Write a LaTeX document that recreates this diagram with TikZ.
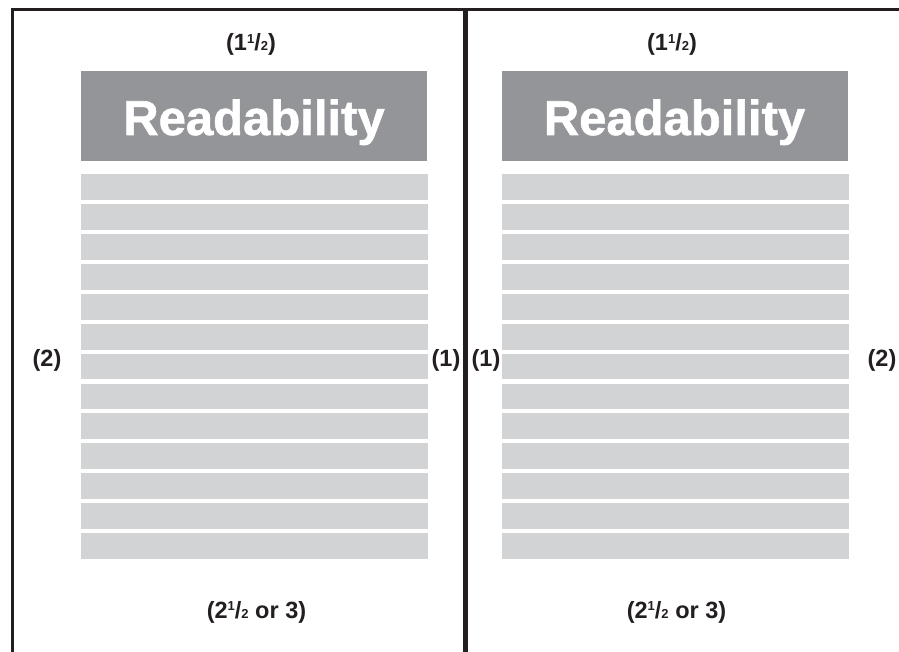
\documentclass[tikz,border=0pt]{standalone}
\usepackage{fontspec}
\setmainfont{Liberation Sans}
\newfontfamily\headfont[FakeBold=1.2]{Liberation Sans}
\definecolor{rulecol}{HTML}{231F20}
\definecolor{headgray}{HTML}{939598}
\definecolor{linegray}{HTML}{D1D3D4}
\definecolor{labelcol}{HTML}{231F20}
\newcommand{\labfont}{\fontsize{23.5}{23.5}\selectfont\bfseries}
\newcommand{\fracsmall}{\fontsize{13}{13}\selectfont\bfseries}
\newcommand{\onehalf}{1\raisebox{7.6pt}{\fracsmall 1}/{\fracsmall 2}}
\newcommand{\twohalf}{2\raisebox{7.6pt}{\fracsmall 1}/{\fracsmall 2}}
\tikzset{
  frameline/.style={draw=rulecol, line width=3pt},
  midline/.style={draw=rulecol, line width=4.5pt},
  headbox/.style={fill=headgray, draw=none, inner sep=0pt, outer sep=0pt,
    minimum width=346pt, minimum height=90pt},
  headtext/.style={text=white, inner sep=0pt, anchor=base,
    font=\headfont\fontsize{49}{49}\selectfont\bfseries},
  textbar/.style={fill=linegray, draw=none, inner sep=0pt, outer sep=0pt,
    minimum width=347pt, minimum height=25.7pt},
  marginlabel/.style={text=labelcol, inner sep=0pt, anchor=base, font=\labfont}
}
\begin{document}
\begin{tikzpicture}[x=1pt,y=-1pt]
\useasboundingbox (0,0) rectangle (899,652);
\fill[white] (0,0) rectangle (899,652);

% page frame: top rule, left rule and the spine between the two pages
\coordinate (topL) at (11,9.5);
\coordinate (topR) at (899,9.5);
\coordinate (leftT) at (12.5,8);
\coordinate (leftB) at (12.5,652);
\coordinate (spineT) at (465.5,8);
\coordinate (spineB) at (465.5,652);
\draw[frameline] (topL) -- (topR);
\draw[frameline] (leftT) -- (leftB);
\draw[midline] (spineT) -- (spineB);

% left page
\node[headbox] (headL) at (254,116) {};
\node[headtext] (titleL) at (254,135) {Readability};
\foreach \i in {0,...,12}
  \node[textbar] (barL\i) at (254.5, 187.35+\i*29.87) {};

% right page
\node[headbox] (headR) at (674.5,116) {};
\node[headtext] (titleR) at (674.5,135) {Readability};
\foreach \i in {0,...,12}
  \node[textbar] (barR\i) at (675, 187.35+\i*29.87) {};

% margin proportions
\node[marginlabel] (topLab) at (251,51) {(\onehalf)};
\node[marginlabel] (topRab) at (672,51) {(\onehalf)};
\node[marginlabel] (outLab) at (47,366.5) {(2)};
\node[marginlabel] (outRab) at (882,366.5) {(2)};
\node[marginlabel] (inLab) at (446,366.5) {(1)};
\node[marginlabel] (inRab) at (486,366.5) {(1)};
\node[marginlabel] (botLab) at (256.5,618) {(\twohalf{} or 3)};
\node[marginlabel] (botRab) at (676.5,618) {(\twohalf{} or 3)};
\end{tikzpicture}
\end{document}
